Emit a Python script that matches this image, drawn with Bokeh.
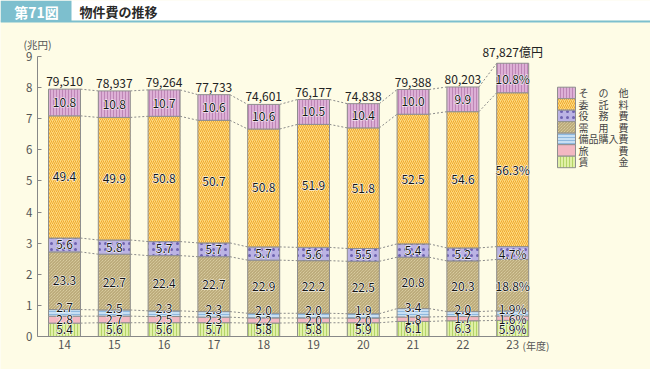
import numpy as np
import pandas as pd
from bokeh.plotting import figure
from bokeh.models import (ColumnDataSource, Range1d, FixedTicker, Label, BoxAnnotation)
from bokeh.core.properties import value
from bokeh.embed import file_html
from bokeh.resources import INLINE

# ---------------- data ----------------
years = [14, 15, 16, 17, 18, 19, 20, 21, 22, 23]
totals = [79510, 78937, 79264, 77733, 74601, 76177, 74838, 79388, 80203, 87827]  # 億円
# composition (%), bottom -> top
chingin = [5.4, 5.6, 5.6, 5.7, 5.8, 5.8, 5.9, 6.1, 6.3, 5.9]
ryohi = [2.8, 2.7, 2.5, 2.3, 2.2, 2.0, 2.0, 1.8, 1.7, 1.6]
bihin = [2.7, 2.5, 2.3, 2.3, 2.0, 2.0, 1.9, 3.4, 2.0, 1.9]
juyo = [23.3, 22.7, 22.4, 22.7, 22.9, 22.2, 22.5, 20.8, 20.3, 18.8]
ekimu = [5.6, 5.8, 5.7, 5.7, 5.7, 5.6, 5.5, 5.4, 5.2, 4.7]
itaku = [49.4, 49.9, 50.8, 50.7, 50.8, 51.9, 51.8, 52.5, 54.6, 56.3]
sonota = [10.8, 10.8, 10.7, 10.6, 10.6, 10.5, 10.4, 10.0, 9.9, 10.8]
categories = ["賃金", "旅費", "備品購入費", "需用費", "役務費", "委託料", "その他"]
legend_labels = ["賃　　　金", "旅　　　費", "備品購入費", "需　用　費",
                 "役　務　費", "委　託　料", "そ　の　他"]
y_ticks = [0, 1, 2, 3, 4, 5, 6, 7, 8, 9]

# ---------------- styles / layout ----------------
F = "Noto Sans CJK JP"
CREAM = "#FEFCE6"
TEAL = "#7DBFCE"
EDGE = "#8E8E8E"
fills = ["#E0F0A6", "#F3B8C2", "#C8DFF3", "#E6DBB0", "#BBB3E4", "#FDDB7E", "#DDB0D6"]
hatches = ["|", " ", "-", "\\", ".", "/", "|"]
hatch_cols = ["#B4D468", "#F3B8C2", "#8EB8DE", "#AE9C6A", "#6E62B0", "#F0A830", "#BE86B6"]
hatch_scales = [3, 3, 3, 3, 6, 4, 3]

W, H = 650, 369
PX = 49.8          # px per year
PY = 280 / 9.0     # px per 兆円
X0_PX, Y0_PX = 64, 336   # pixel of year-14 centre / value 0
XS = years[0] - X0_PX / PX
XE = XS + W / PX
YS = -(H - Y0_PX) / PY
YE = Y0_PX / PY


def X(px):
    return XS + px / PX


def Y(py):
    return (Y0_PX - py) / PY


shares = [chingin, ryohi, bihin, juyo, ekimu, itaku, sonota]
keys = [f"c{i}" for i in range(len(categories))]
tot = np.array(totals, dtype=float) / 10000.0  # 兆円
heights = [np.array(s) / 100.0 * tot for s in shares]

data = {"year": years}
for k, h in zip(keys, heights):
    data[k] = h
src = ColumnDataSource(data)

p = figure(width=W, height=H, x_range=Range1d(XS, XE), y_range=Range1d(YS, YE),
           output_backend="svg", toolbar_location=None,
           min_border_left=0, min_border_right=0, min_border_top=0, min_border_bottom=0,
           background_fill_color=CREAM, border_fill_color=CREAM, outline_line_color=None)
p.grid.visible = False

# header
p.add_layout(BoxAnnotation(left=X(0), right=X(W), top=Y(0), bottom=Y(20),
                           fill_color="white", fill_alpha=1, line_color=None, level="underlay"))
p.add_layout(BoxAnnotation(left=X(0), right=X(W), top=Y(20), bottom=Y(22),
                           fill_color=TEAL, fill_alpha=1, line_color=None, level="underlay"))
p.add_layout(BoxAnnotation(left=X(0), right=X(71), top=Y(0), bottom=Y(21),
                           fill_color=TEAL, fill_alpha=1, line_color=None, level="underlay"))
p.add_layout(Label(x=X(36), y=Y(11), text="第71図", text_font=F, text_font_size="14px",
                   text_font_style="bold", text_color="white", text_align="center",
                   text_baseline="middle"))
p.add_layout(Label(x=X(79), y=Y(11), text="物件費の推移", text_font=F, text_font_size="13px",
                   text_font_style="bold", text_color="#2A2A2A", text_align="left",
                   text_baseline="middle"))

# connectors (dashed) between bars at each boundary
BW = 32 / PX
cum = np.cumsum(np.vstack(heights), axis=0)  # 7 x 10
seg = {"x0": [], "x1": [], "y0": [], "y1": []}
for b in range(cum.shape[0]):
    for i in range(len(years) - 1):
        seg["x0"].append(years[i] + BW / 2)
        seg["x1"].append(years[i + 1] - BW / 2)
        seg["y0"].append(cum[b, i])
        seg["y1"].append(cum[b, i + 1])
p.segment(x0="x0", y0="y0", x1="x1", y1="y1", source=ColumnDataSource(seg),
          line_color="#8A8A8A", line_width=1, line_dash="2 2")

rends = p.vbar_stack(keys, x="year", width=BW, source=src,
                     fill_color=fills, hatch_pattern=hatches, hatch_color=hatch_cols,
                     hatch_scale=hatch_scales, hatch_weight=1,
                     line_color=EDGE, line_width=1)

# segment labels (white halo underneath, dark text on top)
lab = {"x": [], "y": [], "t": [], "yo": []}
bottoms = np.vstack([np.zeros(len(years)), cum[:-1]])
for k in range(len(categories)):
    for i, yr in enumerate(years):
        v = shares[k][i]
        lab["x"].append(yr)
        lab["y"].append(bottoms[k, i] + heights[k][i] / 2)
        lab["t"].append(f"{v:.1f}" + ("%" if i == len(years) - 1 else ""))
        lab["yo"].append(-5 if categories[k] == "備品購入費" else 0)
lab_src = ColumnDataSource(lab)
p.text(x="x", y="y", text="t", y_offset="yo", source=lab_src,
       text_align="center", text_baseline="middle", text_font=value(F),
       text_font_size="12px", text_color="white", text_outline_color="white")
p.text(x="x", y="y", text="t", y_offset="yo", source=lab_src,
       text_align="center", text_baseline="middle", text_font=value(F),
       text_font_size="12px", text_color="#151515")

# totals
ttxt = [f"{v:,}" for v in totals]
ttxt[-1] = ttxt[-1] + "億円"
p.text(x=years, y=list(tot), text=ttxt, y_offset=-3, text_align="center",
       text_baseline="bottom", text_font=value(F), text_font_size="12px",
       text_color="#222222")

# axes (fixed inside the full-canvas frame)
p.yaxis.fixed_location = X(37)
p.yaxis.ticker = FixedTicker(ticks=y_ticks)
p.yaxis.bounds = (0, 9)
p.yaxis.major_tick_in = 4
p.yaxis.major_tick_out = 0
p.yaxis.minor_tick_line_color = None
p.yaxis.axis_line_color = "#888888"
p.yaxis.major_tick_line_color = "#888888"
p.yaxis.major_label_text_font = F
p.yaxis.major_label_text_font_size = "11.5px"
p.yaxis.major_label_text_color = "#555555"
p.yaxis.major_label_standoff = 5

p.xaxis.fixed_location = 0
p.xaxis.ticker = FixedTicker(ticks=years)
p.xaxis.bounds = (X(37), X(528))
p.xaxis.major_tick_in = 0
p.xaxis.major_tick_out = 0
p.xaxis.minor_tick_line_color = None
p.xaxis.axis_line_color = "#888888"
p.xaxis.major_label_text_font = F
p.xaxis.major_label_text_font_size = "11.5px"
p.xaxis.major_label_text_color = "#555555"
p.xaxis.major_label_standoff = 3

p.add_layout(Label(x=X(23), y=Y(44), text="(兆円)", text_font=F, text_font_size="10.5px",
                   text_color="#555555", text_baseline="middle", text_align="left"))
p.add_layout(Label(x=X(522), y=Y(345), text="(年度)", text_font=F, text_font_size="10px",
                   text_color="#555555", text_baseline="middle", text_align="left"))

# legend (swatches drawn with the same fill / hatch styles as the bars)
LG_L, LG_R, LG_T, LG_ROW = 557, 575, 86.7, 11.5
for row, k in enumerate(reversed(range(len(categories)))):
    top = LG_T + row * LG_ROW
    p.add_layout(BoxAnnotation(left=X(LG_L), right=X(LG_R), top=Y(top), bottom=Y(top + LG_ROW),
                               fill_color=fills[k], fill_alpha=1,
                               hatch_pattern=hatches[k], hatch_color=hatch_cols[k],
                               hatch_scale=hatch_scales[k], hatch_weight=1,
                               line_color=EDGE, line_width=1, line_alpha=1))
    p.add_layout(Label(x=X(578), y=Y(top + LG_ROW / 2), text=legend_labels[k], text_font=F,
                       text_font_size="10px", text_color="#444444", text_align="left",
                       text_baseline="middle"))

open("out.html", "w").write(file_html(p, INLINE))
